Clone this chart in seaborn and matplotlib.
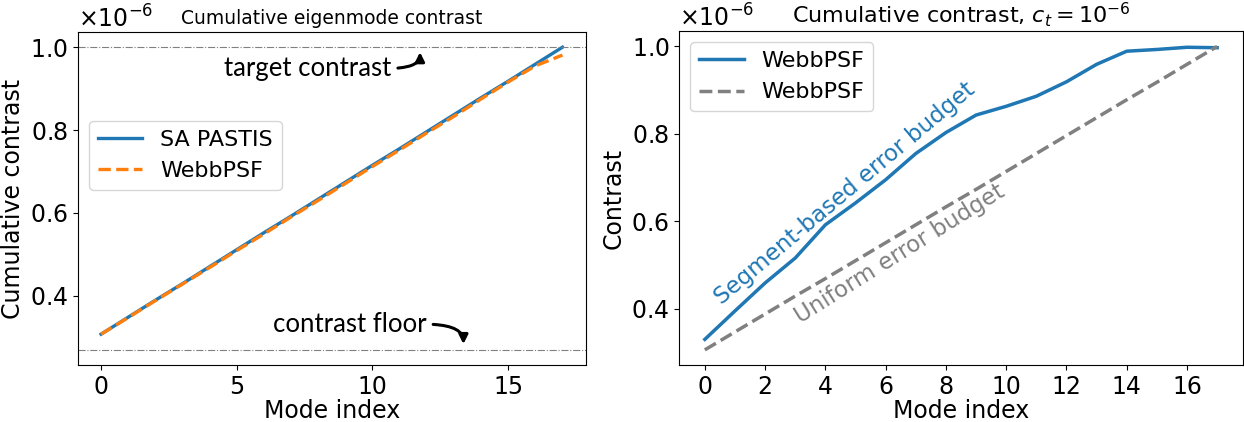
import numpy as np
import pandas as pd
import matplotlib
matplotlib.use('Agg')
import matplotlib.pyplot as plt
import seaborn as sns

# values in units of 1e-6
modes = list(range(18))
sa_pastis = [0.307, 0.348, 0.389, 0.429, 0.470, 0.511, 0.552, 0.592, 0.633,
             0.674, 0.715, 0.755, 0.796, 0.837, 0.878, 0.918, 0.959, 1.000]
webbpsf_left = [0.307, 0.347, 0.388, 0.428, 0.468, 0.509, 0.549, 0.590, 0.630,
                0.671, 0.712, 0.752, 0.793, 0.833, 0.875, 0.916, 0.955, 0.981]
webbpsf_seg = [0.330, 0.395, 0.459, 0.516, 0.592, 0.642, 0.695, 0.755, 0.803,
               0.843, 0.863, 0.886, 0.919, 0.959, 0.989, 0.993, 0.998, 0.997]
webbpsf_uniform = [0.306, 0.347, 0.388, 0.429, 0.469, 0.510, 0.551, 0.592, 0.633,
                   0.673, 0.714, 0.755, 0.796, 0.837, 0.878, 0.918, 0.959, 1.000]
target_contrast = 1.0
contrast_floor = 0.269
unit = 1e-6

plt.rcParams['font.family'] = ['DejaVu Sans']
plt.rcParams['font.size'] = 17

fig = plt.figure(figsize=(12.44, 4.22), dpi=100)
ax1 = fig.add_axes([0.0627, 0.135, 0.408, 0.789])
ax2 = fig.add_axes([0.546, 0.135, 0.453, 0.791])

# left panel
df1 = pd.DataFrame({'mode': modes,
                    'SA PASTIS': np.array(sa_pastis) * unit,
                    'WebbPSF': np.array(webbpsf_left) * unit})
sns.lineplot(data=df1, x='mode', y='SA PASTIS', ax=ax1, color='#1f77b4', lw=2.4, label='SA PASTIS')
sns.lineplot(data=df1, x='mode', y='WebbPSF', ax=ax1, color='#ff7f0e', lw=2.4, ls='--', label='WebbPSF')
ax1.axhline(target_contrast * unit, color='grey', ls='-.', lw=0.8)
ax1.axhline(contrast_floor * unit, color='grey', ls='-.', lw=0.8)
ax1.set_xticks([0, 5, 10, 15])
ax1.set_xlabel('Mode index', labelpad=0)
ax1.set_ylabel('Cumulative contrast')
ax1.set_title('Cumulative eigenmode contrast', fontsize=13.5, pad=6)
ax1.ticklabel_format(axis='y', useMathText=True)
ax1.legend(loc='center left', bbox_to_anchor=(0.0, 0.63), fontsize=16)

arrow_kw = dict(arrowstyle='-|>', lw=2.2, color='k', mutation_scale=13,
                shrinkA=3, shrinkB=0, relpos=(1.0, 0.5))
ax1.annotate('target contrast', xy=(11.75, 0.988 * unit), xytext=(7.6, 0.949 * unit),
             ha='center', va='center', fontsize=18.5, family=['Lato', 'DejaVu Sans'],
             arrowprops=dict(connectionstyle='angle3,angleA=0,angleB=90', **arrow_kw))
ax1.annotate('contrast floor', xy=(13.35, 0.283 * unit), xytext=(9.15, 0.331 * unit),
             ha='center', va='center', fontsize=18.5, family=['Lato', 'DejaVu Sans'],
             arrowprops=dict(connectionstyle='angle3,angleA=0,angleB=90', **arrow_kw))

# right panel
df2 = pd.DataFrame({'mode': modes,
                    'seg': np.array(webbpsf_seg) * unit,
                    'uni': np.array(webbpsf_uniform) * unit})
sns.lineplot(data=df2, x='mode', y='seg', ax=ax2, color='#1f77b4', lw=2.5, label='WebbPSF')
sns.lineplot(data=df2, x='mode', y='uni', ax=ax2, color='grey', lw=2.5, ls='--', label='WebbPSF')
ax2.set_xticks(range(0, 17, 2))
ax2.set_xlabel('Mode index', labelpad=0)
ax2.set_ylabel('Contrast')
ax2.set_title('Cumulative contrast, $c_t = 10^{-6}$', fontsize=16, pad=6)
ax2.ticklabel_format(axis='y', useMathText=True)
ax2.legend(loc='upper left', fontsize=16)
ax2.text(4.64, 0.664 * unit, 'Segment-based error budget', color='#1f77b4', fontsize=16.5,
         rotation=40, ha='center', va='center', rotation_mode='anchor')
ax2.text(6.48, 0.525 * unit, 'Uniform error budget', color='grey', fontsize=16.5,
         rotation=32, ha='center', va='center', rotation_mode='anchor')

for ax in (ax1, ax2):
    ax.tick_params(labelsize=17)

fig.savefig('out.png', dpi=100)
